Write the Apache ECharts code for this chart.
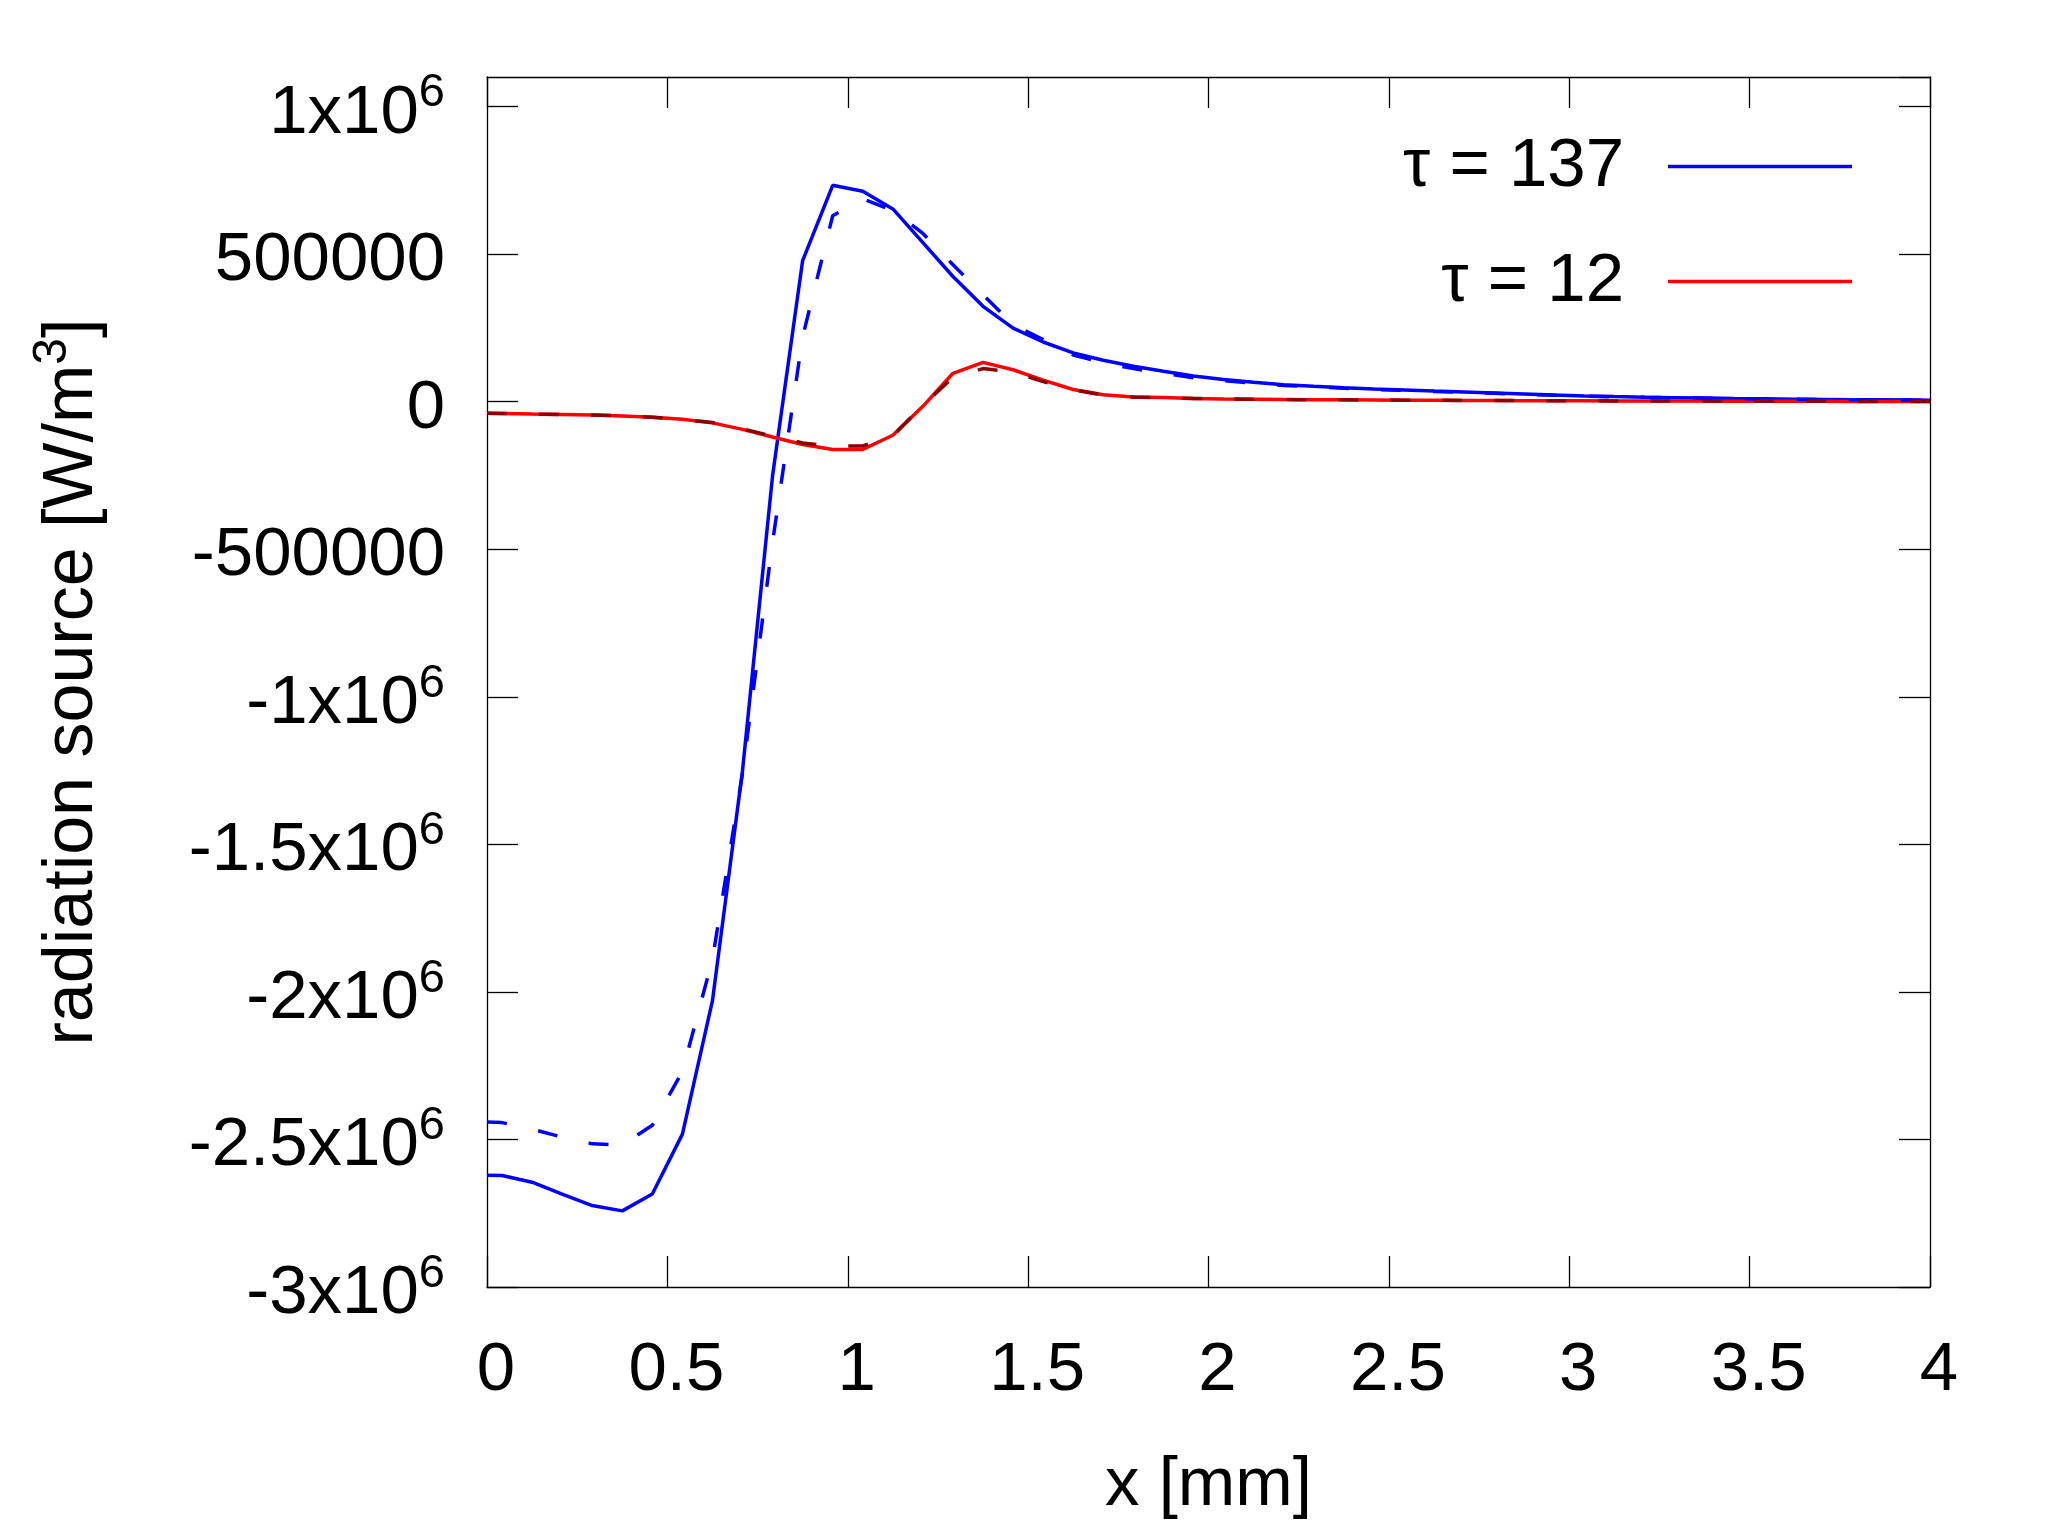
<!DOCTYPE html>
<html><head><meta charset="utf-8">
<script src="https://cdn.jsdelivr.net/npm/echarts@6/dist/echarts.min.js"></script>
<style>html,body{margin:0;padding:0;background:#fff}#c{width:2048px;height:1536px}</style>
</head><body><div id="c"></div>
<script>
const xValues = [0, 0.0417, 0.125, 0.2083, 0.2917, 0.375, 0.4583, 0.5417, 0.625, 0.7083,
  0.7917, 0.875, 0.9583, 1.0417, 1.125, 1.2083, 1.2917, 1.375, 1.4583, 1.5417,
  1.625, 1.7083, 1.7917, 1.875, 1.9583, 2.0417, 2.125, 2.2083, 2.2917, 2.375,
  2.4583, 2.5417, 2.625, 2.7083, 2.7917, 2.875, 2.9583, 3.0417, 3.125, 3.2083,
  3.2917, 3.375, 3.4583, 3.5417, 3.625, 3.7083, 3.7917, 3.875, 3.9583, 4];

const blueSolid = [-2621000, -2622000, -2645000, -2685000, -2724000, -2742000, -2685000, -2482000, -2030000, -1250000,
  -250000, 478000, 733000, 713000, 653000, 539000, 424000, 323000, 249000, 202000,
  165000, 140000, 120000, 103000, 87000, 75000, 65500, 57600, 52000, 47400,
  43000, 39600, 36100, 32700, 29400, 26000, 22600, 19500, 17000, 15000,
  13500, 12000, 10500, 9500, 8500, 7500, 6500, 6000, 5500, 5000];

const blueDashed = [-2441000, -2443000, -2465000, -2492000, -2515000, -2519000, -2452000, -2270000, -1890000, -1260000,
  -475000, 220000, 630000, 687000, 648000, 570000, 464000, 362000, 261000, 210000,
  158000, 132000, 112000, 96000, 81000, 71000, 62000, 55000, 50000, 45500,
  41500, 38000, 34500, 31500, 28300, 25000, 21800, 18800, 16400, 14500,
  13000, 11500, 10000, 9000, 8000, 7000, 6200, 5600, 5100, 4700];

const redSolid = [-39700, -40000, -42000, -43500, -45500, -48500, -53000, -60000, -72000, -94000,
  -120000, -145000, -162000, -162000, -114000, -16000, 96000, 133000, 108000, 73000,
  41000, 23000, 16000, 14000, 11000, 9000, 8000, 7000, 6500, 6000,
  5500, 5000, 4500, 4000, 3700, 3400, 3100, 2800, 2500, 2200,
  2000, 1800, 1600, 1400, 1200, 1000, 800, 600, 500, 400];

const redDashed = [-39700, -40000, -42000, -43500, -45500, -48500, -53000, -60000, -71000, -92000,
  -117000, -140000, -151000, -150000, -116000, -12000, 82000, 112000, 100000, 68000,
  40000, 22000, 15500, 13500, 10800, 9000, 8000, 7000, 6500, 6000,
  5500, 5000, 4500, 4000, 3700, 3400, 3100, 2800, 2500, 2200,
  2000, 1800, 1600, 1400, 1200, 1000, 800, 600, 500, 400];

const xTickValues = [0, 0.5, 1, 1.5, 2, 2.5, 3, 3.5, 4];
const xTickLabels = ['0', '0.5', '1', '1.5', '2', '2.5', '3', '3.5', '4'];
const yTickValues = [-3000000, -2500000, -2000000, -1500000, -1000000, -500000, 0, 500000, 1000000];
const yTickLabels = ['-3x10^6', '-2.5x10^6', '-2x10^6', '-1.5x10^6', '-1x10^6', '-500000', '0', '500000', '1x10^6'];

const seriesNames = ['τ = 137', 'τ = 12'];
const FONT = 'Liberation Sans';
const FS = 69;

function lookup(vals, labels, v) {
  for (let i = 0; i < vals.length; i++) if (Math.abs(vals[i] - v) < 1e-6 * Math.max(1, Math.abs(v))) return labels[i];
  return null;
}
function yFmt(v) {
  const s = lookup(yTickValues, yTickLabels, v);
  if (s === null) return '';
  const k = s.indexOf('^');
  return k < 0 ? '{m|' + s + '}' : '{m|' + s.slice(0, k) + '}{s|' + s.slice(k + 1) + '}';
}
function xFmt(v) {
  const s = lookup(xTickValues, xTickLabels, v);
  return s === null ? '' : s;
}
function pairs(arr) { return xValues.map((x, i) => [x, arr[i]]); }

const richSup = {
  m: { fontSize: FS, fontFamily: FONT, color: '#000' },
  s: { fontSize: 47, fontFamily: FONT, color: '#000', padding: [0, 0, 40, 0] }
};
const richTitle = {
  m: { fontSize: 70, fontFamily: FONT, color: '#000' },
  s: { fontSize: 48, fontFamily: FONT, color: '#000', padding: [0, 0, 40, 0] }
};
const axisLineStyle = { color: '#000', width: 1.3 };
const LW = 3.5;

const chart = echarts.init(document.getElementById('c'), null, { renderer: 'canvas' });
chart.setOption({
  animation: false,
  backgroundColor: '#fff',
  grid: { left: 487, right: 118, top: 77, bottom: 249, outerBoundsMode: 'none' },
  legend: [
    { data: [seriesNames[0]], orient: 'vertical', right: 196, top: 132, padding: 0, align: 'right',
      icon: 'rect', itemWidth: 184, itemHeight: 3.5, selectedMode: false,
      textStyle: { fontSize: FS, fontFamily: FONT, color: '#000', padding: [0, 39, 0, 0] } },
    { data: [seriesNames[1]], orient: 'vertical', right: 196, top: 247, padding: 0, align: 'right',
      icon: 'rect', itemWidth: 184, itemHeight: 3.5, selectedMode: false,
      textStyle: { fontSize: FS, fontFamily: FONT, color: '#000', padding: [0, 39, 0, 0] } }
  ],
  xAxis: [
    { type: 'value', min: 0, max: 4, interval: 0.5, position: 'bottom',
      axisLine: { show: true, onZero: false, lineStyle: axisLineStyle },
      axisTick: { show: true, inside: true, length: 31, lineStyle: axisLineStyle },
      axisLabel: { show: true, margin: 49, formatter: xFmt, fontSize: FS, fontFamily: FONT, color: '#000', padding: [0, 0, 0, 18] },
      splitLine: { show: false },
      name: 'x [mm]', nameLocation: 'middle', nameGap: 164,
      nameTextStyle: { fontSize: FS, fontFamily: FONT, color: '#000' } },
    { type: 'value', min: 0, max: 4, interval: 0.5, position: 'top',
      axisLine: { show: true, onZero: false, lineStyle: axisLineStyle },
      axisTick: { show: true, inside: true, length: 31, lineStyle: axisLineStyle },
      axisLabel: { show: false }, splitLine: { show: false } }
  ],
  yAxis: [
    { type: 'value', min: -3000000, max: 1100000, interval: 500000, position: 'left',
      axisLine: { show: true, onZero: false, lineStyle: axisLineStyle },
      axisTick: { show: true, inside: true, length: 31, lineStyle: axisLineStyle },
      axisLabel: { show: true, margin: 42, formatter: yFmt, showMaxLabel: false, rich: richSup, padding: [14, 0, 0, 0] },
      splitLine: { show: false },
      name: '{m|radiation source [W/m}{s|3}{m|]}', nameLocation: 'middle', nameGap: 370,
      nameTextStyle: { fontSize: 70, fontFamily: FONT, color: '#000', rich: richTitle } },
    { type: 'value', min: -3000000, max: 1100000, interval: 500000, position: 'right',
      axisLine: { show: true, onZero: false, lineStyle: axisLineStyle },
      axisTick: { show: true, inside: true, length: 31, lineStyle: axisLineStyle },
      axisLabel: { show: false }, splitLine: { show: false } }
  ],
  series: [
    { name: seriesNames[0], type: 'line', data: pairs(blueSolid), symbol: 'none', color: '#0000ff',
      lineStyle: { color: '#0000ff', width: LW }, z: 2 },
    { name: seriesNames[1], type: 'line', data: pairs(redSolid), symbol: 'none', color: '#ff0000',
      lineStyle: { color: '#ff0000', width: LW }, z: 3 },
    { name: 'τ = 137 dashed', type: 'line', data: pairs(blueDashed), symbol: 'none', color: '#0000ff',
      lineStyle: { color: '#0000ff', width: LW, type: [20, 32] }, z: 4 },
    { name: 'τ = 12 dashed', type: 'line', data: pairs(redDashed), symbol: 'none', color: '#8b0000',
      lineStyle: { color: '#8b0000', width: LW, type: [20, 32] }, z: 5 }
  ]
});
</script>
</body></html>
